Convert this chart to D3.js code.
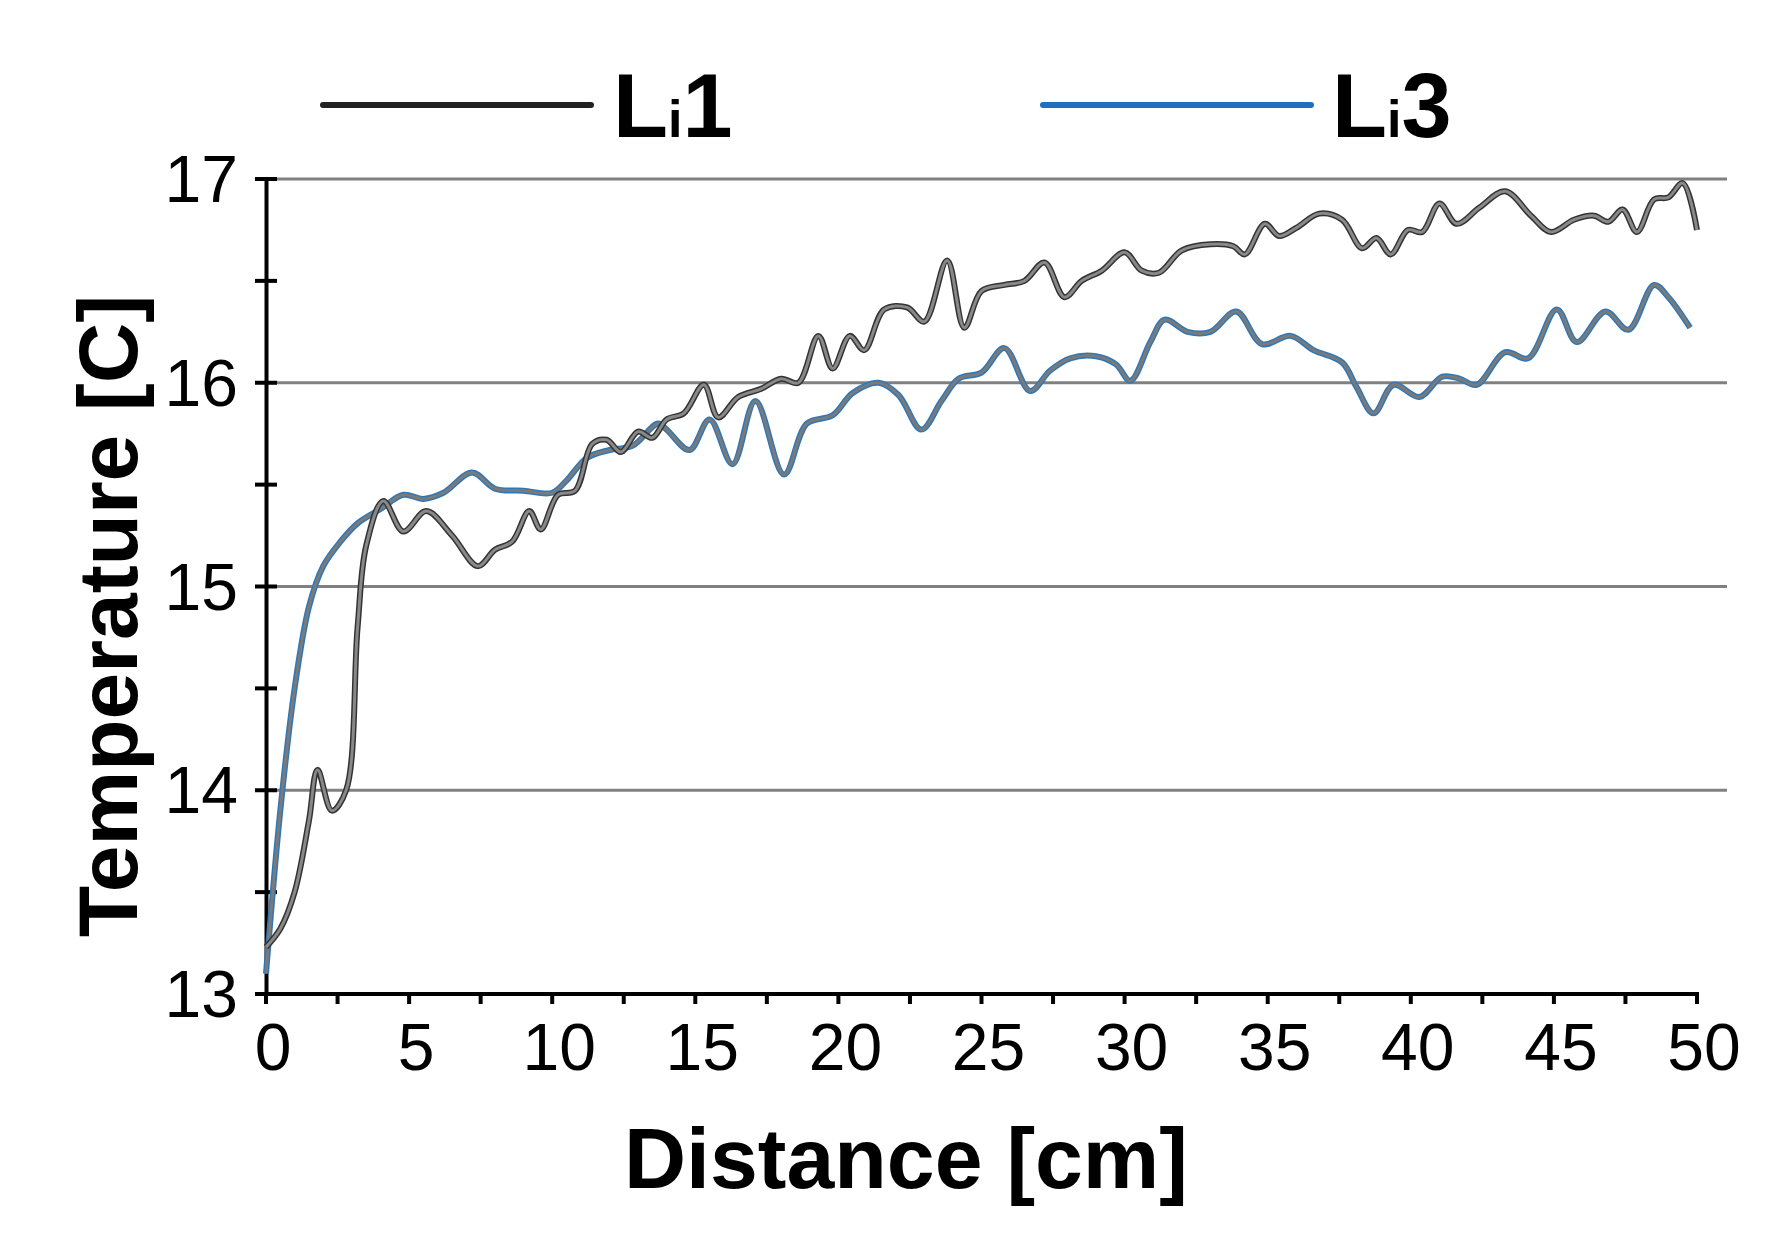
<!DOCTYPE html>
<html><head><meta charset="utf-8">
<script src="https://cdn.jsdelivr.net/npm/d3@7"></script>
<style>body{margin:0;background:#fff}svg{display:block}</style>
</head><body>
<script>
const li1X=[0,0.5,1,1.5,1.8,2.3,2.8,3.2,3.5,4.1,4.8,5.6,6.5,7.4,8.0,8.6,9.2,9.6,10.2,10.8,11.4,11.9,12.4,13.0,13.5,14.0,14.6,15.3,15.8,16.5,17.3,18.0,18.6,19.3,19.8,20.4,20.9,21.6,22.4,23.0,23.8,24.4,25.0,25.8,26.5,27.2,27.9,28.5,29.2,30.0,30.6,31.2,32.0,33.0,33.8,34.2,34.9,35.4,36.0,36.8,37.6,38.3,38.8,39.3,39.9,40.4,41.0,41.6,42.4,43.3,44.2,44.9,45.7,46.4,46.9,47.4,47.9,48.5,49.0,49.5,50.0];
const li1Y=[13.23,13.32,13.5,13.85,14.1,13.9,14.0,14.8,15.2,15.42,15.27,15.37,15.25,15.1,15.18,15.22,15.37,15.28,15.45,15.47,15.7,15.72,15.66,15.76,15.73,15.82,15.85,15.99,15.83,15.93,15.97,16.02,16.0,16.23,16.07,16.23,16.16,16.36,16.37,16.3,16.6,16.27,16.45,16.48,16.5,16.59,16.42,16.5,16.55,16.64,16.55,16.54,16.65,16.68,16.67,16.63,16.78,16.72,16.76,16.83,16.8,16.66,16.71,16.63,16.75,16.74,16.88,16.78,16.86,16.94,16.82,16.74,16.8,16.82,16.79,16.85,16.74,16.9,16.91,16.98,16.75];
const li3X=[0,0.5,1.0,1.5,2.0,2.6,3.2,4.0,4.8,5.5,6.2,7.2,8.0,9.0,10.0,10.5,11.2,12.0,12.8,13.7,14.0,14.8,15.5,16.3,17.1,18.1,18.9,19.8,20.5,21.4,22.1,22.9,23.6,24.2,25.0,25.8,26.7,27.4,28.1,29.0,29.7,30.2,30.9,31.4,32.2,33.0,33.9,34.8,35.8,36.6,37.6,38.1,38.7,39.4,40.3,41.1,41.7,42.3,43.3,44.1,45.1,45.8,46.8,47.6,48.5,49.0,49.76];
const li3Y=[13.1,13.9,14.5,14.9,15.1,15.22,15.31,15.38,15.45,15.43,15.46,15.56,15.48,15.47,15.46,15.52,15.63,15.67,15.69,15.8,15.77,15.67,15.82,15.6,15.91,15.55,15.8,15.84,15.95,16.0,15.94,15.77,15.91,16.02,16.05,16.17,15.96,16.06,16.12,16.13,16.09,16.01,16.2,16.31,16.25,16.25,16.35,16.19,16.23,16.16,16.1,15.98,15.85,15.99,15.93,16.03,16.02,15.99,16.15,16.12,16.36,16.2,16.35,16.26,16.48,16.42,16.27];
const xTicks=[0,5,10,15,20,25,30,35,40,45,50];
const yTicks=[13,14,15,16,17];

const W=1779,H=1244;
const svg=d3.select("body").append("svg").attr("width",W).attr("height",H);
const x=d3.scaleLinear().domain([0,50]).range([266,1697]);
const y=d3.scaleLinear().domain([13,17]).range([994,179]);
const font="Arial, 'Liberation Sans', sans-serif";

svg.append("g").selectAll("line").data(yTicks.slice(1)).join("line")
  .attr("x1",266).attr("x2",1727).attr("y1",d=>y(d)).attr("y2",d=>y(d))
  .attr("stroke","#808080").attr("stroke-width",3);

const ya=svg.append("g").attr("transform","translate(266,0)")
  .call(d3.axisLeft(y).tickValues(d3.range(13,17.01,0.5)).tickSize(0).tickFormat(""));
ya.select(".domain").attr("stroke","#000").attr("stroke-width",4);
svg.append("g").selectAll("line").data(d3.range(13,17.01,0.5)).join("line")
  .attr("x1",255).attr("x2",277).attr("y1",d=>y(d)).attr("y2",d=>y(d)).attr("stroke","#000").attr("stroke-width",4);
svg.append("g").selectAll("text").data(yTicks).join("text")
  .attr("x",238).attr("y",d=>y(d)+23).attr("text-anchor","end")
  .attr("font-family",font).attr("font-size",66).attr("transform-origin","238px 0").text(d=>d);

svg.append("line").attr("x1",266).attr("x2",1699).attr("y1",994).attr("y2",994).attr("stroke","#000").attr("stroke-width",4);
svg.append("g").selectAll("line").data(d3.range(0,50.01,2.5)).join("line")
  .attr("x1",d=>x(d)).attr("x2",d=>x(d)).attr("y1",994).attr("y2",1004).attr("stroke","#000").attr("stroke-width",4);
svg.append("g").selectAll("text").data(xTicks).join("text")
  .attr("x",d=>x(d)+7).attr("y",1070).attr("text-anchor","middle")
  .attr("font-family",font).attr("font-size",66).text(d=>d);

svg.append("text").attr("x",906).attr("y",1188).attr("text-anchor","middle")
  .attr("font-family",font).attr("font-weight","bold").attr("font-size",86).text("Distance [cm]");
svg.append("text").attr("transform","translate(137,616) rotate(-90)").attr("text-anchor","middle")
  .attr("font-family",font).attr("font-weight","bold").attr("font-size",84).text("Temperature [C]");

const line=d3.line().x(d=>x(d[0])).y(d=>y(d[1])).curve(d3.curveCatmullRom.alpha(0.5));
const d1=li1X.map((v,i)=>[v,li1Y[i]]), d3d=li3X.map((v,i)=>[v,li3Y[i]]);
svg.append("path").attr("d",line(d3d)).attr("fill","none").attr("stroke","#2f78b8").attr("stroke-width",6);
svg.append("path").attr("d",line(d3d)).attr("fill","none").attr("stroke","#7a7a7a").attr("stroke-width",3);
svg.append("path").attr("d",line(d1)).attr("fill","none").attr("stroke","#333").attr("stroke-width",6);
svg.append("path").attr("d",line(d1)).attr("fill","none").attr("stroke","#888").attr("stroke-width",3);

const leg=[{n:"1",c:"#222",x0:323,x1:591,tx:613},{n:"3",c:"#1f6fc0",x0:1043,x1:1311,tx:1332}];
leg.forEach(l=>{
  svg.append("line").attr("x1",l.x0).attr("x2",l.x1).attr("y1",105).attr("y2",105).attr("stroke",l.c).attr("stroke-width",6).attr("stroke-linecap","round");
  const t=svg.append("text").attr("x",l.tx).attr("y",137).attr("font-family",font).attr("font-weight","bold").attr("font-size",90);
  t.append("tspan").text("L");
  t.append("tspan").attr("font-size",52).text("i");
  t.append("tspan").text(l.n);
});
</script>
</body></html>
